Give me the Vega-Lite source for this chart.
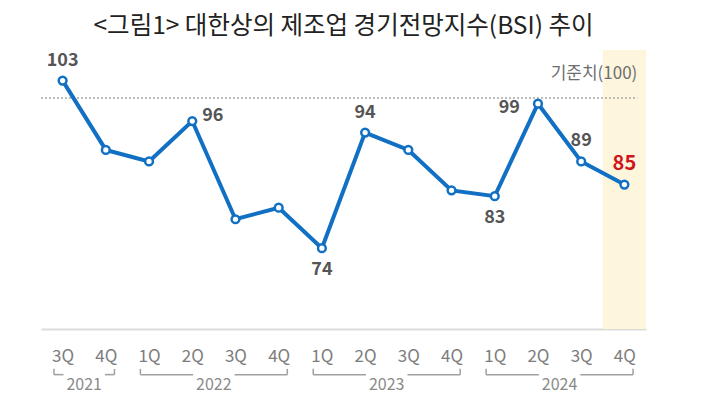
{
  "$schema": "https://vega.github.io/schema/vega-lite/v6.json",
  "autosize": "none",
  "width": 605,
  "height": 279,
  "padding": {"left": 41, "top": 50, "right": 64, "bottom": 91},
  "background": "white",
  "title": {
    "text": "<그림1> 대한상의 제조업 경기전망지수(BSI) 추이",
    "font": "Noto Sans CJK KR",
    "fontSize": 24.5,
    "fontWeight": 400,
    "color": "#222222",
    "anchor": "middle",
    "offset": 11
  },
  "config": {"view": {"stroke": null}, "font": "Noto Sans CJK KR"},
  "datasets": {
    "bsi": [
      {"i": 0, "year": "2021", "quarter": "3Q", "bsi": 103},
      {"i": 1, "year": "2021", "quarter": "4Q", "bsi": 91},
      {"i": 2, "year": "2022", "quarter": "1Q", "bsi": 89},
      {"i": 3, "year": "2022", "quarter": "2Q", "bsi": 96},
      {"i": 4, "year": "2022", "quarter": "3Q", "bsi": 79},
      {"i": 5, "year": "2022", "quarter": "4Q", "bsi": 81},
      {"i": 6, "year": "2023", "quarter": "1Q", "bsi": 74},
      {"i": 7, "year": "2023", "quarter": "2Q", "bsi": 94},
      {"i": 8, "year": "2023", "quarter": "3Q", "bsi": 91},
      {"i": 9, "year": "2023", "quarter": "4Q", "bsi": 84},
      {"i": 10, "year": "2024", "quarter": "1Q", "bsi": 83},
      {"i": 11, "year": "2024", "quarter": "2Q", "bsi": 99},
      {"i": 12, "year": "2024", "quarter": "3Q", "bsi": 89},
      {"i": 13, "year": "2024", "quarter": "4Q", "bsi": 85}
    ],
    "years": [
      {"year": "2021", "first": 0, "last": 1},
      {"year": "2022", "first": 2, "last": 5},
      {"year": "2023", "first": 6, "last": 9},
      {"year": "2024", "first": 10, "last": 13}
    ],
    "ref": [{"label": "기준치(100)", "value": 100}]
  },
  "layer": [
    {
      "data": {"name": "bsi"},
      "transform": [
        {"filter": "datum.i == 13"},
        {"calculate": "datum.i - 0.5", "as": "lo"},
        {"calculate": "datum.i + 0.5", "as": "hi"}
      ],
      "mark": {"type": "rect", "fill": "#fdf5dc"},
      "encoding": {
        "x": {
          "field": "lo",
          "type": "quantitative",
          "title": null,
          "scale": {"domain": [-0.5, 13.5], "nice": false, "zero": false},
          "axis": {
            "values": [0, 1, 2, 3, 4, 5, 6, 7, 8, 9, 10, 11, 12, 13],
            "labelExpr": "((datum.value + 2) % 4 + 1) + 'Q'",
            "domainColor": "#dcdcdc",
            "domainWidth": 2,
            "ticks": false,
            "grid": false,
            "labelFontSize": 17,
            "labelColor": "#7d7d7d",
            "labelPadding": 19,
            "labelFlush": false,
            "labelOverlap": false,
            "labelFont": "Noto Sans CJK KR"
          }
        },
        "x2": {"field": "hi"}
      }
    },
    {
      "data": {"name": "ref"},
      "transform": [
        {"calculate": "-0.5", "as": "x0"},
        {"calculate": "13.3", "as": "x1"}
      ],
      "mark": {"type": "rule", "color": "#a8a8a8", "strokeWidth": 1.5, "strokeDash": [2, 2]},
      "encoding": {
        "x": {"field": "x0", "type": "quantitative", "title": null},
        "x2": {"field": "x1"},
        "y": {
          "field": "value",
          "type": "quantitative",
          "title": null,
          "scale": {"domain": [60, 108.3], "nice": false, "zero": false},
          "axis": null
        }
      }
    },
    {
      "data": {"name": "ref"},
      "transform": [{"calculate": "13.3", "as": "x1"}],
      "mark": {"type": "text", "align": "right", "baseline": "middle", "dy": -24, "fontSize": 17, "color": "#6e6e6e"},
      "encoding": {
        "x": {"field": "x1", "type": "quantitative", "title": null},
        "y": {"field": "value", "type": "quantitative", "title": null},
        "text": {"field": "label"}
      }
    },
    {
      "data": {"name": "bsi"},
      "mark": {"type": "line", "color": "#1170c3", "strokeWidth": 4},
      "encoding": {
        "x": {"field": "i", "type": "quantitative", "title": null},
        "y": {"field": "bsi", "type": "quantitative", "title": null}
      }
    },
    {
      "data": {"name": "bsi"},
      "mark": {"type": "point", "shape": "circle", "filled": true, "fill": "white", "stroke": "#1170c3", "strokeWidth": 2.5, "size": 60, "opacity": 1},
      "encoding": {
        "x": {"field": "i", "type": "quantitative", "title": null},
        "y": {"field": "bsi", "type": "quantitative", "title": null}
      }
    },
    {
      "data": {"name": "bsi"},
      "transform": [{"filter": "datum.i == 0 || datum.i == 7 || datum.i == 12"}],
      "mark": {"type": "text", "align": "center", "baseline": "middle", "dy": -20, "fontSize": 18, "fontWeight": "bold", "color": "#555555"},
      "encoding": {
        "x": {"field": "i", "type": "quantitative", "title": null},
        "y": {"field": "bsi", "type": "quantitative", "title": null},
        "text": {"field": "bsi"}
      }
    },
    {
      "data": {"name": "bsi"},
      "transform": [{"filter": "datum.i == 13"}],
      "mark": {"type": "text", "align": "center", "baseline": "middle", "dy": -21, "fontSize": 20, "fontWeight": "bold", "color": "#d0141c"},
      "encoding": {
        "x": {"field": "i", "type": "quantitative", "title": null},
        "y": {"field": "bsi", "type": "quantitative", "title": null},
        "text": {"field": "bsi"}
      }
    },
    {
      "data": {"name": "bsi"},
      "transform": [{"filter": "datum.i == 6 || datum.i == 10"}],
      "mark": {"type": "text", "align": "center", "baseline": "middle", "dy": 22, "fontSize": 18, "fontWeight": "bold", "color": "#555555"},
      "encoding": {
        "x": {"field": "i", "type": "quantitative", "title": null},
        "y": {"field": "bsi", "type": "quantitative", "title": null},
        "text": {"field": "bsi"}
      }
    },
    {
      "data": {"name": "bsi"},
      "transform": [{"filter": "datum.i == 3"}],
      "mark": {"type": "text", "align": "left", "baseline": "middle", "dx": 10, "dy": -5, "fontSize": 18, "fontWeight": "bold", "color": "#555555"},
      "encoding": {
        "x": {"field": "i", "type": "quantitative", "title": null},
        "y": {"field": "bsi", "type": "quantitative", "title": null},
        "text": {"field": "bsi"}
      }
    },
    {
      "data": {"name": "bsi"},
      "transform": [{"filter": "datum.i == 11"}],
      "mark": {"type": "text", "align": "right", "baseline": "middle", "dx": -18, "dy": 4, "fontSize": 18, "fontWeight": "bold", "color": "#555555"},
      "encoding": {
        "x": {"field": "i", "type": "quantitative", "title": null},
        "y": {"field": "bsi", "type": "quantitative", "title": null},
        "text": {"field": "bsi"}
      }
    },
    {
      "data": {"name": "years"},
      "transform": [
        {"calculate": "(datum.first + datum.last) / 2", "as": "mid"},
        {"calculate": "50.3", "as": "yt"}
      ],
      "mark": {"type": "text", "align": "center", "baseline": "middle", "fontSize": 16, "color": "#8a8a8a"},
      "encoding": {
        "x": {"field": "mid", "type": "quantitative", "title": null},
        "y": {"field": "yt", "type": "quantitative", "title": null},
        "text": {"field": "year"}
      }
    },
    {
      "data": {"name": "years"},
      "transform": [
        {"calculate": "datum.first - 0.2", "as": "s"},
        {"calculate": "(datum.first + datum.last) / 2 - 0.48", "as": "e"},
        {"calculate": "52.1", "as": "yb"}
      ],
      "mark": {"type": "rule", "color": "#a0a0a0", "strokeWidth": 1.5},
      "encoding": {
        "x": {"field": "s", "type": "quantitative", "title": null},
        "x2": {"field": "e"},
        "y": {"field": "yb", "type": "quantitative", "title": null}
      }
    },
    {
      "data": {"name": "years"},
      "transform": [
        {"calculate": "(datum.first + datum.last) / 2 + 0.48", "as": "s"},
        {"calculate": "datum.last + 0.2", "as": "e"},
        {"calculate": "52.1", "as": "yb"}
      ],
      "mark": {"type": "rule", "color": "#a0a0a0", "strokeWidth": 1.5},
      "encoding": {
        "x": {"field": "s", "type": "quantitative", "title": null},
        "x2": {"field": "e"},
        "y": {"field": "yb", "type": "quantitative", "title": null}
      }
    },
    {
      "data": {"name": "years"},
      "transform": [
        {"calculate": "datum.first - 0.2", "as": "s"},
        {"calculate": "datum.last + 0.2", "as": "e"},
        {"fold": ["s", "e"], "as": ["k", "xv"]},
        {"calculate": "52.1", "as": "yb"},
        {"calculate": "53.1", "as": "yc"}
      ],
      "mark": {"type": "rule", "color": "#a0a0a0", "strokeWidth": 1.5},
      "encoding": {
        "x": {"field": "xv", "type": "quantitative", "title": null},
        "y": {"field": "yb", "type": "quantitative", "title": null},
        "y2": {"field": "yc"}
      }
    }
  ]
}
